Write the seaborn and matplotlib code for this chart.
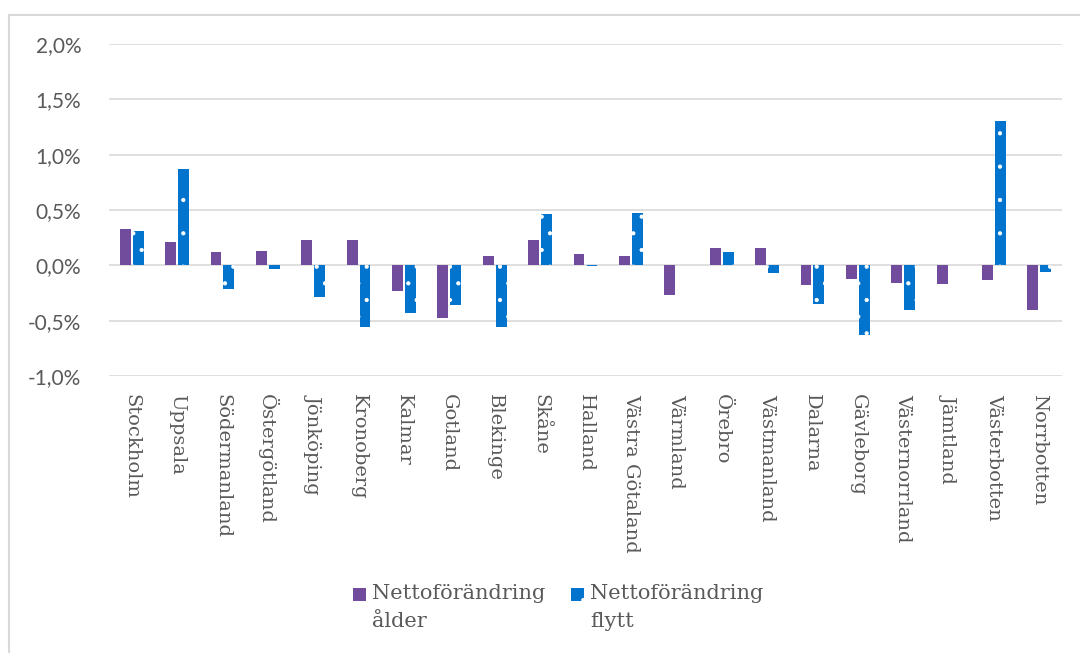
import matplotlib
matplotlib.use("Agg")
import matplotlib.pyplot as plt
import matplotlib.patches as mpatches
from matplotlib.ticker import FuncFormatter, MultipleLocator
import seaborn as sns
import pandas as pd

regions = ["Stockholm", "Uppsala", "Södermanland", "Östergötland", "Jönköping",
           "Kronoberg", "Kalmar", "Gotland", "Blekinge", "Skåne", "Halland",
           "Västra Götaland", "Värmland", "Örebro", "Västmanland", "Dalarna",
           "Gävleborg", "Västernorrland", "Jämtland", "Västerbotten", "Norrbotten"]
alder = [0.33, 0.21, 0.12, 0.13, 0.23, 0.23, -0.23, -0.48, 0.08, 0.23, 0.10,
         0.08, -0.27, 0.16, 0.16, -0.18, -0.12, -0.16, -0.17, -0.13, -0.40]
flytt = [0.31, 0.87, -0.21, -0.03, -0.29, -0.56, -0.43, -0.36, -0.56, 0.46, -0.01,
         0.47, 0.0, 0.12, -0.07, -0.35, -0.63, -0.40, 0.0, 1.30, -0.06]
series = ["Nettoförändring\nålder", "Nettoförändring\nflytt"]
colors = ["#714b9c", "#0274cd"]

df = pd.DataFrame({
    "region": regions * 2,
    "serie": [series[0]] * len(regions) + [series[1]] * len(regions),
    "value": alder + flytt,
})

sns.set_theme(style="white")
plt.rcParams["font.family"] = ["DejaVu Sans"]
plt.rcParams["hatch.linewidth"] = 0.6

fig = plt.figure(figsize=(10.8, 6.53), dpi=100)
ax = fig.add_axes([109 / 1080, 1 - 376 / 653, (1062 - 109) / 1080, (376 - 44) / 653])

sns.barplot(data=df, x="region", y="value", hue="serie", hue_order=series,
            palette=colors, width=0.57, gap=0.16, ax=ax, legend=False,
            saturation=1, edgecolor="none")

for bar in ax.containers[1]:
    bar.set_hatch(".")
    bar.set_edgecolor("white")
    bar.set_linewidth(0)

ax.set_ylim(-1.0, 2.0)
ax.set_xlim(-0.5, len(regions) - 0.5)
ax.yaxis.set_major_locator(MultipleLocator(0.5))
ax.yaxis.set_major_formatter(FuncFormatter(lambda v, p: f"{v:.1f}%".replace(".", ",")))
ax.grid(axis="y", color="#d9d9d9", linewidth=1.2)
ax.set_axisbelow(True)
for s in ax.spines.values():
    s.set_visible(False)
ax.set_xlabel("")
ax.set_ylabel("")
ax.tick_params(axis="y", labelsize=15, labelcolor="#595959", pad=20, length=0)
ax.tick_params(axis="x", labelsize=14, labelcolor="#595959", pad=13, length=0)
for lab in ax.get_yticklabels():
    lab.set_family(["Lato", "DejaVu Sans"])
for lab in ax.get_xticklabels():
    lab.set_family(["DejaVu Serif"])
    lab.set_rotation(-90)
    lab.set_va("top")
    lab.set_ha("center")

# outer chart border
fig.patches.append(mpatches.Rectangle((9 / 1080, -0.1), 1.2, 1 - 15 / 653 + 0.1,
                                      transform=fig.transFigure, fill=False,
                                      edgecolor="#d9d9d9", linewidth=1.5))

# legend
W, H = 1080, 653
legend_items = [(353, series[0], colors[0], None), (571, series[1], colors[1], ".")]
for x0, label, col, hatch in legend_items:
    sq = mpatches.Rectangle((x0 / W, 1 - 601 / H), 13 / W, 13 / H, transform=fig.transFigure,
                            facecolor=col, edgecolor="white" if hatch else "none",
                            linewidth=0, hatch=hatch)
    fig.patches.append(sq)
    fig.text((x0 + 19) / W, 1 - 584 / H, label, ha="left", va="top",
             family="DejaVu Serif", size=15, color="#595959", linespacing=1.6)

fig.savefig("out.png", dpi=100)
